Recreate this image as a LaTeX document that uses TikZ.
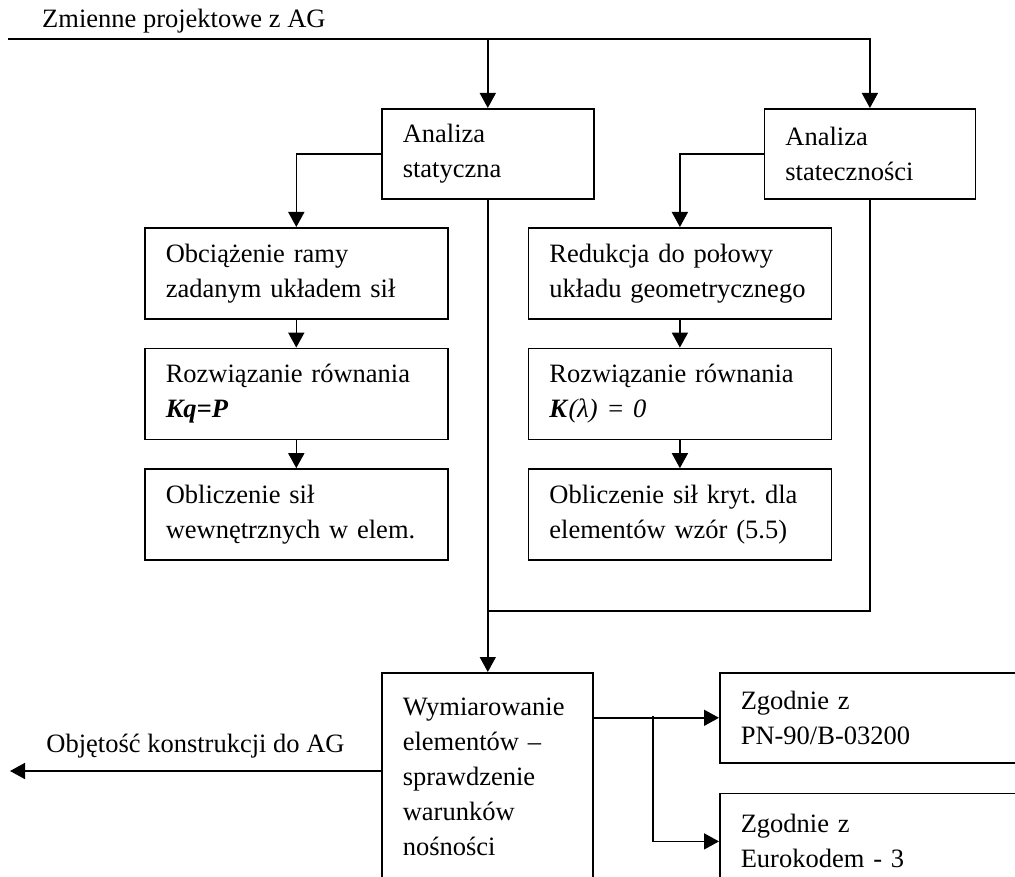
\documentclass[tikz,border=0pt]{standalone}
\usepackage{fontspec}
\setmainfont{Liberation Serif}
\usetikzlibrary{arrows.meta,positioning}
\newcommand\diagfont{\fontsize{26.5pt}{35pt}\selectfont\frenchspacing}
\tikzset{
  stepbox/.style={rectangle, draw=black, line width=1.6pt, align=left,
                  text width=#1, inner xsep=21pt, inner ysep=0pt,
                  minimum height=91pt, font=\diagfont},
  lbl/.style={font=\diagfont, inner sep=0pt},
  arr/.style={-{Triangle[length=15pt,width=16pt]}, line width=1.6pt, draw=black},
  wire/.style={line width=1.6pt, draw=black},
}

\begin{document}
\begin{tikzpicture}[x=1pt, y=-1pt, node distance=28pt]
  \useasboundingbox (0,0) rectangle (1015,877);
  \clip (0,0) rectangle (1015,877);
  % analysis boxes
  \node[stepbox=170pt, minimum height=90pt, anchor=north west] (stat) at (381,108) {Analiza\\statyczna};
  \node[stepbox=169pt, minimum height=90pt, right=169pt of stat] (stab) {Analiza\\stateczności};
  % static branch
  \node[stepbox=261pt, anchor=north west] (load) at (144,227) {Obciążenie ramy\\zadanym układem sił};
  \node[stepbox=261pt, below=of load] (solveA) {Rozwiązanie równania\\\textbf{\textit{Kq=P}}};
  \node[stepbox=261pt, below=of solveA] (forces) {Obliczenie sił\\wewnętrznych w elem.};
  % stability branch
  \node[stepbox=261pt, right=79pt of load] (halve) {Redukcja do połowy\\układu geometrycznego};
  \node[stepbox=261pt, below=of halve] (solveB) {Rozwiązanie równania\\\textbf{\textit{K}}\textit{(λ) = 0}};
  \node[stepbox=261pt, below=of solveB] (crit) {Obliczenie sił kryt. dla\\elementów wzór (5.5)};
  % design and codes
  \node[stepbox=169pt, minimum height=242pt, anchor=north west] (dim) at (381,672) {Wymiarowanie\\elementów –\\sprawdzenie\\warunków\\nośności\\\mbox{}};
  \node[stepbox=298pt, minimum height=90pt, anchor=north west] (pn) at (719,672) {Zgodnie z\\PN-90/B-03200};
  \node[stepbox=298pt, minimum height=96pt, below=29pt of pn] (euro) {Zgodnie z\\Eurokodem - 3};

  \coordinate (inL) at (8,39);
  \coordinate (join) at (stat.south |- 0,611);
  \coordinate (split) at (653,716);
  \coordinate (outL) at (10,771);
  \node[lbl, anchor=base west] (inLbl) at (42,28) {Zmienne projektowe z AG};

  % input from AG
  \draw[arr] (inL) -| (stab.north);
  \draw[arr] (stat.north |- inL) -- (stat.north);
  \draw[arr] (stat.west) -| (load.north);
  \draw[arr] (stab.west) -| (halve.north);
  \draw[arr] (load) -- (solveA);
  \draw[arr] (solveA) -- (forces);
  \draw[arr] (halve) -- (solveB);
  \draw[arr] (solveB) -- (crit);
  % results to design
  \draw[arr] (stat.south) -- (stat.south |- dim.north);
  \draw[wire] (stab.south) |- (join);
  \draw[arr] (dim.east |- pn.west) -- (pn.west);
  \draw[arr] (split) |- (euro.west);
  % output to AG
  \draw[arr] (dim.west |- outL) -- (outL) node[lbl, midway, anchor=base, yshift=19pt] (outLbl) {Objętość konstrukcji do AG};
\end{tikzpicture}
\end{document}
